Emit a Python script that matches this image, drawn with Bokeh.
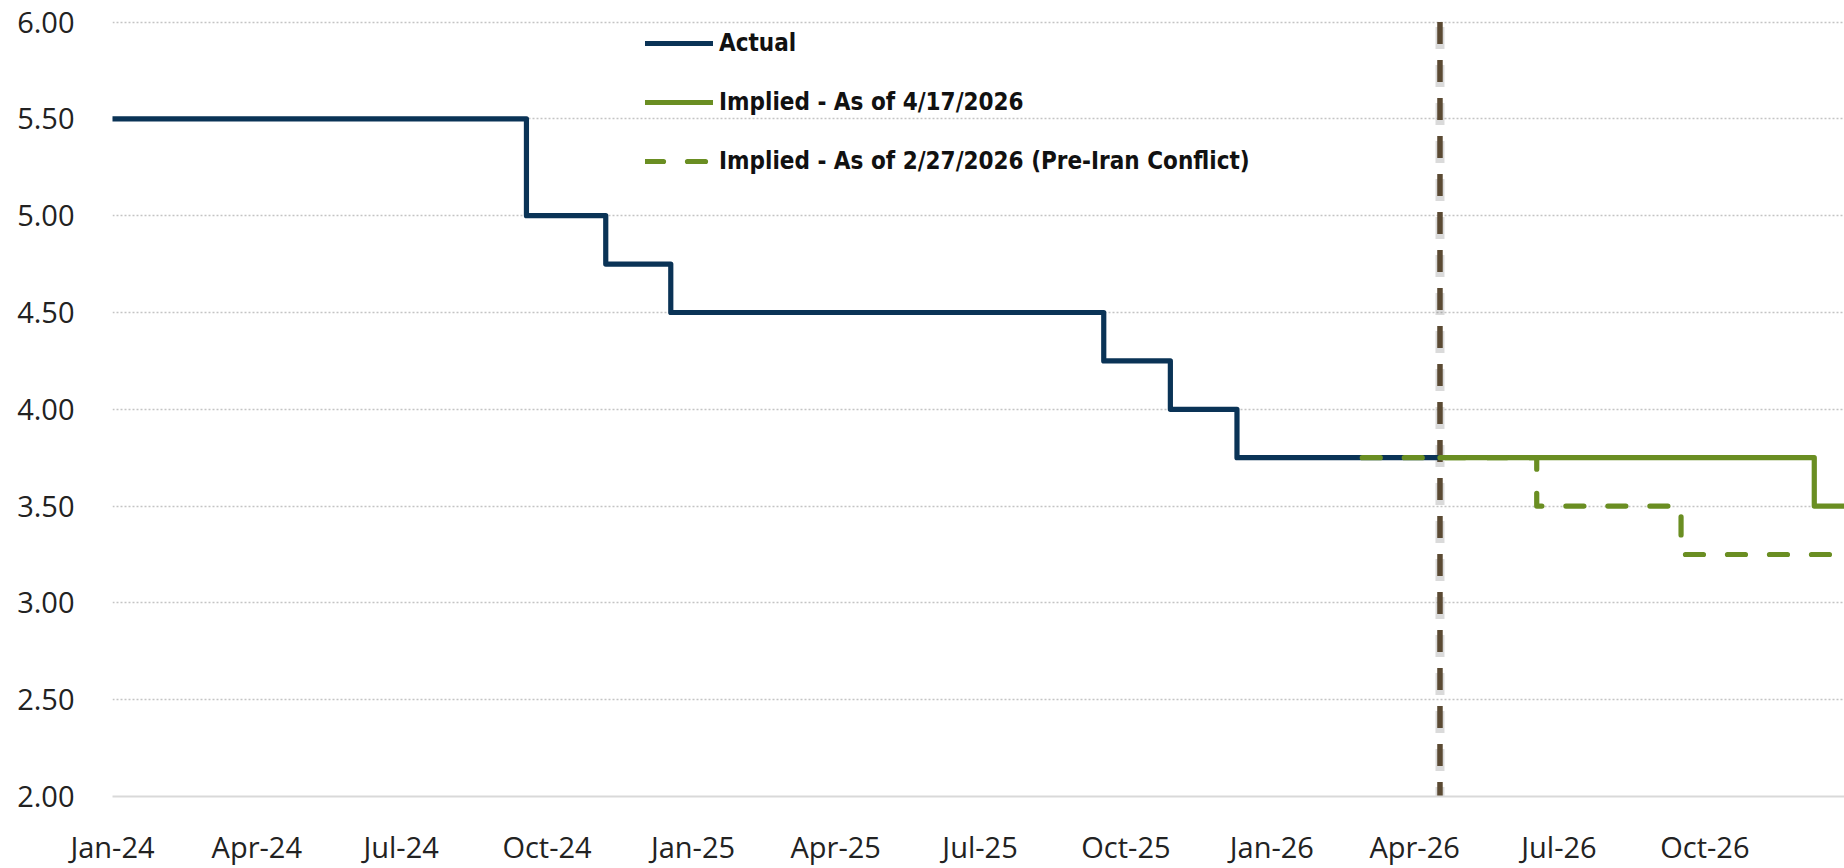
import numpy as np
import pandas as pd
from bokeh.plotting import figure
from bokeh.models import (ColumnDataSource, FixedTicker, Range1d, Legend, LegendItem)
from bokeh.embed import file_html
from bokeh.resources import INLINE

# ---------------- data ----------------
actual_dates = ["2024-01-01", "2024-09-18", "2024-11-07", "2024-12-18",
                "2025-09-17", "2025-10-29", "2025-12-10", "2026-04-17"]
actual_rates = [5.50, 5.00, 4.75, 4.50, 4.25, 4.00, 3.75, 3.75]

implied_now_dates = ["2026-04-17", "2026-12-09", "2026-12-31"]
implied_now_rates = [3.75, 3.50, 3.50]

implied_pre_dates = ["2026-02-27", "2026-06-17", "2026-09-16", "2026-12-31"]
implied_pre_rates = [3.75, 3.50, 3.25, 3.25]

vline_date = "2026-04-17"

y_ticks = [2.0, 2.5, 3.0, 3.5, 4.0, 4.5, 5.0, 5.5, 6.0]
y_tick_labels = ["2.00", "2.50", "3.00", "3.50", "4.00", "4.50", "5.00", "5.50", "6.00"]

x_tick_dates = ["2024-01-01", "2024-04-01", "2024-07-01", "2024-10-01",
                "2025-01-01", "2025-04-01", "2025-07-01", "2025-10-01",
                "2026-01-01", "2026-04-01", "2026-07-01", "2026-10-01"]
x_tick_labels = ["Jan-24", "Apr-24", "Jul-24", "Oct-24", "Jan-25", "Apr-25",
                 "Jul-25", "Oct-25", "Jan-26", "Apr-26", "Jul-26", "Oct-26"]

labels = ["Actual", "Implied - As of 4/17/2026",
          "Implied - As of 2/27/2026 (Pre-Iran Conflict)"]

# ---------------- styling ----------------
NAVY = "#0a3356"
GREEN = "#6a8e22"
BROWN = "#5b4a33"
GRID = "#c4c4c4"
TICK_FONT = "Open Sans"
LEG_FONT = "'DejaVu Sans Condensed', 'Roboto', sans-serif"

W, H = 1844, 868
LEFT, BOTTOM = 112, 72
frame_h = H - BOTTOM
px_per_unit = 193.6
px_per_day = 1.586

x_start = pd.Timestamp(x_tick_dates[0])
x_end = x_start + pd.Timedelta(days=(W - LEFT) / px_per_day)
y_start = y_ticks[0]
y_end = y_start + frame_h / px_per_unit

def ms(d):
    return pd.Timestamp(d).value / 1e6

p = figure(width=W, height=H, x_axis_type="datetime",
           output_backend="svg", toolbar_location=None,
           x_range=Range1d(ms(x_start), ms(x_end)),
           y_range=Range1d(y_start, y_end),
           min_border_left=LEFT, min_border_right=0,
           min_border_top=0, min_border_bottom=BOTTOM,
           background_fill_color="white", border_fill_color="white")
p.outline_line_color = None

# grid
p.xgrid.grid_line_color = None
p.ygrid.ticker = FixedTicker(ticks=y_ticks)
p.ygrid.grid_line_color = GRID
p.ygrid.grid_line_width = 1.5
p.ygrid.grid_line_dash = "2 2"

# y axis
p.yaxis.ticker = FixedTicker(ticks=y_ticks)
p.yaxis.major_label_overrides = {t: l for t, l in zip(y_ticks, y_tick_labels)}
p.yaxis.axis_line_color = None
p.yaxis.major_tick_line_color = None
p.yaxis.minor_tick_line_color = None
p.yaxis.major_tick_out = 0
p.yaxis.major_tick_in = 0
p.yaxis.major_label_standoff = 38
p.yaxis.major_label_text_font = TICK_FONT
p.yaxis.major_label_text_font_size = "29px"
p.yaxis.major_label_text_color = "#222222"

# x axis
x_ticks_ms = [ms(d) for d in x_tick_dates]
p.xaxis.ticker = FixedTicker(ticks=x_ticks_ms)
p.xaxis.major_label_overrides = {t: l for t, l in zip(x_ticks_ms, x_tick_labels)}
p.xaxis.axis_line_color = "#d9d9d9"
p.xaxis.axis_line_width = 2
p.xaxis.major_tick_line_color = None
p.xaxis.minor_tick_line_color = None
p.xaxis.major_tick_out = 0
p.xaxis.major_tick_in = 0
p.xaxis.major_label_standoff = 30
p.xaxis.major_label_text_font = TICK_FONT
p.xaxis.major_label_text_font_size = "29px"
p.xaxis.major_label_text_color = "#222222"

# vertical reference line (with soft shadow)
vx = pd.Timestamp(vline_date)
shadow_off = 5 / px_per_unit
p.segment(x0=[vx], y0=[y_ticks[-1] - shadow_off], x1=[vx], y1=[y_ticks[0] - 0.05 - shadow_off],
          line_color="#7a7a7a", line_alpha=0.28, line_width=9, line_dash="22 16")
p.segment(x0=[vx], y0=[y_ticks[-1]], x1=[vx], y1=[y_ticks[0] - 0.05],
          line_color=BROWN, line_width=5.5, line_dash="22 16")

# series
src_a = ColumnDataSource(dict(x=pd.to_datetime(actual_dates), y=actual_rates))
src_n = ColumnDataSource(dict(x=pd.to_datetime(implied_now_dates), y=implied_now_rates))
src_p = ColumnDataSource(dict(x=pd.to_datetime(implied_pre_dates), y=implied_pre_rates))

r_a = p.step("x", "y", source=src_a, mode="after", line_color=NAVY, line_width=5.2,
             line_join="round", line_cap="round")
r_n = p.step("x", "y", source=src_n, mode="after", line_color=GREEN, line_width=5.2,
             line_join="round", line_cap="round")
r_p = p.step("x", "y", source=src_p, mode="after", line_color=GREEN, line_width=5.2,
             line_dash="18 24", line_join="round", line_cap="round")

legend = Legend(items=[LegendItem(label=labels[0], renderers=[r_a]),
                       LegendItem(label=labels[1], renderers=[r_n]),
                       LegendItem(label=labels[2], renderers=[r_p])],
                location=(533, frame_h - 28 - 148),
                orientation="vertical",
                padding=0, margin=0, spacing=29,
                glyph_width=68, glyph_height=30, label_height=30,
                label_standoff=6,
                label_text_font=LEG_FONT, label_text_font_style="bold",
                label_text_font_size="24px", label_text_color="#111111",
                border_line_color=None, background_fill_alpha=0)
p.add_layout(legend, "center")

open("out.html", "w").write(file_html(p, INLINE))
